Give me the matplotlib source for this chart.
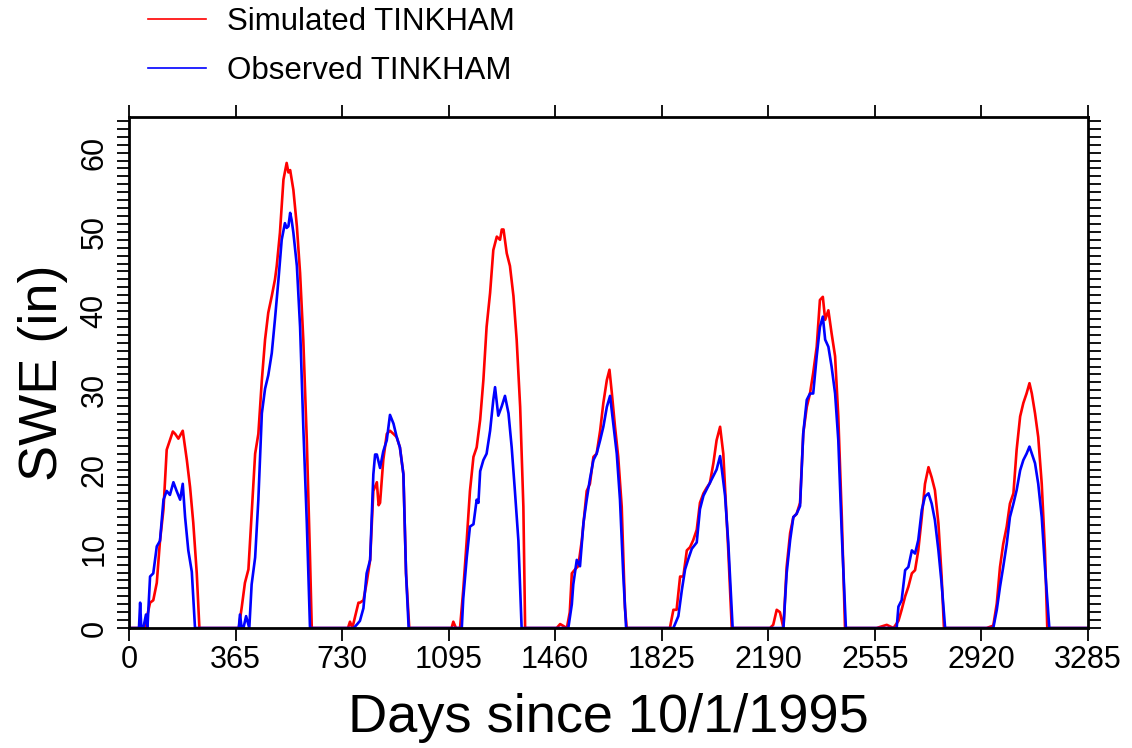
import matplotlib
matplotlib.use("Agg")
import matplotlib.pyplot as plt
import numpy as np

# Simulated SWE (red): day since 10/1/1995 and inches
sim_days = [0, 55, 62, 72, 83, 95, 106, 118, 129, 140, 150, 158, 169, 184, 198, 209, 220, 232, 241,
            376, 386, 397, 409, 420, 432, 443, 455, 466, 477, 489, 500, 506, 517, 529, 540, 546, 552,
            563, 575, 586, 597, 609, 620, 626,
            750, 757, 765, 786, 791, 803, 814, 826, 837, 849, 855, 860, 871, 883, 894, 906, 917, 928,
            940, 949, 960,
            1105, 1111, 1120, 1134, 1145, 1157, 1168, 1180, 1191, 1203, 1214, 1225, 1237, 1248, 1260,
            1271, 1277, 1283, 1294, 1305, 1317, 1328, 1340, 1351, 1357,
            1465, 1477, 1500, 1510, 1517, 1528, 1539, 1551, 1568, 1579, 1591, 1602, 1614, 1625, 1637,
            1646, 1654, 1665, 1676, 1688, 1699, 1705,
            1842, 1853, 1865, 1876, 1888, 1899, 1911, 1922, 1933, 1945, 1956, 1968, 1979, 1990, 2002,
            2013, 2025, 2036, 2042, 2053, 2065,
            2196, 2207, 2219, 2230, 2242, 2253, 2265, 2276, 2287, 2299, 2310, 2322, 2333, 2344, 2356,
            2367, 2377, 2385, 2396, 2407, 2419, 2430, 2442, 2453,
            2561, 2596, 2619, 2636, 2647, 2659, 2670, 2682, 2693, 2704, 2716, 2727, 2739, 2750, 2761,
            2773, 2784, 2792,
            2938, 2961, 2973, 2984, 2995, 3007, 3018, 3030, 3041, 3053, 3064, 3075, 3085, 3093, 3104,
            3115, 3127, 3138, 3146, 3285]
sim_swe = [0, 0, 1.5, 3.2, 3.5, 5.7, 11, 15, 22.5, 23.7, 24.8, 24.5, 23.9, 24.9, 21.2, 17.8, 13.3, 6.9, 0,
           0, 2.6, 5.7, 7.4, 14.5, 22, 24.5, 31.3, 36.4, 39.8, 41.9, 44, 45.7, 49.9, 56.6, 58.7, 57.5, 57.8,
           55.3, 50.7, 44.8, 36.4, 23.7, 8.9, 0,
           0, 0.8, 0, 3.2, 3.2, 3.5, 5.7, 8.6, 17.3, 18.4, 15.5, 15.8, 21.2, 24.5, 24.9, 24.5, 24.1, 22.8,
           19.4, 6.9, 0,
           0, 0.8, 0, 0, 4.8, 11.1, 17.3, 21.6, 22.8, 26.3, 31.3, 38, 42.3, 47.7, 49.4,
           49, 50.3, 50.3, 47.3, 45.7, 41.9, 36.4, 27.9, 15.3, 0,
           0, 0.5, 0, 2, 6.9, 7.4, 7.8, 11, 17.3, 18.2, 21.6, 22, 24.9, 28.4, 31.3,
           32.6, 29.7, 25.4, 21.6, 15.3, 2.6, 0,
           0, 0, 2.3, 2.3, 6.5, 6.5, 9.8, 10.2, 11.1, 12.4, 15.8, 17, 17.7, 18.3, 20.8,
           23.7, 25.4, 22, 17.7, 9.8, 0,
           0, 0.4, 2.3, 2, 0, 7.7, 12, 14, 14.4, 15.8, 24.6, 27.9, 29.6, 32.2, 35.5,
           41.4, 41.8, 38.9, 40.1, 37.2, 34.3, 26.7, 14, 0,
           0, 0.4, 0, 0.9, 2.3, 4, 5.2, 6.9, 7.3, 9.8, 14, 18.2, 20.3, 19, 17.4,
           13.2, 6.5, 0,
           0, 0.3, 3.1, 7.7, 10.6, 12.8, 15.7, 17, 22.5, 26.7, 28.4, 29.6, 30.9, 29.6, 27.1,
           24.1, 18.2, 9.8, 0, 0]

# Observed SWE (blue)
obs_days = [0, 34, 38, 42, 49, 58, 63, 72, 83, 95, 106, 118, 129, 140, 152, 163, 175, 184, 192, 203, 215, 226,
            376, 380, 386, 392, 401, 412, 420, 432, 443, 455, 466, 477, 489, 500, 512, 523, 534, 540, 546,
            552, 557, 563, 575, 586, 597, 609, 620,
            770, 782, 791, 803, 814, 826, 837, 843, 849, 860, 871, 883, 894, 906, 917, 928, 940, 949, 958,
            1134, 1140, 1145, 1157, 1168, 1180, 1191, 1197, 1203, 1214, 1225, 1237, 1248, 1254, 1265,
            1277, 1288, 1300, 1311, 1322, 1334, 1345,
            1488, 1505, 1517, 1522, 1534, 1545, 1557, 1568, 1579, 1591, 1602, 1614, 1625, 1637, 1648,
            1659, 1671, 1682, 1693, 1703,
            1865, 1882, 1894, 1905, 1916, 1928, 1945, 1956, 1968, 1979, 1990, 2002, 2013, 2025, 2031,
            2042, 2053, 2068,
            2219, 2242, 2253, 2265, 2276, 2287, 2299, 2310, 2322, 2333, 2344, 2356, 2367, 2377, 2385,
            2396, 2407, 2419, 2430, 2442, 2456,
            2630, 2636, 2647, 2659, 2670, 2682, 2693, 2704, 2716, 2727, 2739, 2750, 2761, 2773, 2784, 2796,
            2961, 2973, 2984, 2995, 3007, 3018, 3030, 3041, 3053, 3064, 3075, 3085, 3093, 3104, 3115,
            3127, 3138, 3153, 3285]
obs_swe = [0, 0, 3.2, 0, 0, 1.7, 0, 6.5, 6.9, 10.3, 11, 16.2, 17.3, 16.8, 18.4, 17.3, 16.2, 18.2, 14, 9.8, 7.1, 0,
           0, 1.7, 0, 0, 1.5, 0, 5.5, 8.9, 16.2, 27.1, 30.2, 31.9, 34.7, 39, 44, 49, 51.1, 50.5, 50.7,
           52.4, 51.5, 49.9, 45.7, 38, 25.4, 13.3, 0,
           0, 0.5, 0.9, 2.5, 6.9, 8.6, 19.4, 21.9, 21.9, 20.2, 22.3, 23.7, 26.9, 25.8, 24.1, 22.8, 19.4, 6.9, 0,
           0, 0, 3.7, 8.9, 12.8, 13.1, 16.2, 15.8, 19.8, 21.2, 22, 24.9, 28.8, 30.4, 26.8,
           28, 29.3, 27.1, 22.8, 17.3, 11, 0,
           0, 0, 3, 5.5, 8.6, 7.8, 13.3, 16.2, 18.8, 21.2, 22, 23.7, 25.4, 27.9, 29.3,
           25.8, 22, 16.2, 6.9, 0,
           0, 1.5, 4.8, 7.4, 8.7, 10, 10.8, 15, 16.7, 17.5, 18.3, 19.2, 20, 21.7, 20,
           16.7, 10.8, 0,
           0, 0, 6.9, 11.1, 14, 14.4, 15.4, 24.6, 28.8, 29.6, 29.6, 34.3, 38, 39.3, 36.4,
           35.5, 33, 29.6, 23.7, 11.8, 0,
           0, 2.7, 3.5, 7.3, 7.7, 9.8, 9.4, 11.1, 14.9, 16.6, 17, 15.7, 13.6, 9.8, 5.6, 0,
           0, 2.3, 5.2, 7.7, 10.6, 14, 15.7, 17.4, 19.9, 21.2, 22, 22.9, 22, 20.8, 18.2,
           14, 7.7, 0, 0]

x_ticks = list(range(0, 3286, 365))
y_ticks = list(range(0, 61, 10))

tick_font = ["Liberation Sans Narrow", "Liberation Sans"]
title_font = ["Liberation Sans"]

fig = plt.figure(figsize=(11.32, 7.48), dpi=100)
ax = fig.add_axes([0.114, 0.1604, 0.847, 0.6832])

ax.plot(sim_days, sim_swe, color="#ff0000", linewidth=1.9, label="Simulated TINKHAM")
ax.plot(obs_days, obs_swe, color="#0000ff", linewidth=1.9, label="Observed TINKHAM")

ax.set_xlim(0, 3285)
ax.set_ylim(0, 64.5)

for side in ["top", "bottom", "left", "right"]:
    ax.spines[side].set_linewidth(2)

# NCL style ticks: outward on every side
ax.set_xticks(x_ticks)
ax.set_yticks(y_ticks)
ax.set_yticks(np.arange(0, 65, 1), minor=True)
ax.tick_params(axis="x", which="major", direction="out", length=9, width=1.3,
               top=True, bottom=True, labelsize=22, pad=3)
ax.tick_params(axis="y", which="both", direction="out", length=9, width=1.3,
               left=True, right=True, labelsize=22, pad=5)
for lab in ax.get_xticklabels():
    lab.set_family(tick_font)
for lab in ax.get_yticklabels():
    lab.set_family(tick_font)
    lab.set_rotation(90)
    lab.set_va("center")

ax.set_xlabel("Days since 10/1/1995", fontsize=39, family=title_font, labelpad=13)
ax.set_ylabel("SWE (in)", fontsize=39, family=title_font, labelpad=8)

fig.legend(loc="upper left", bbox_to_anchor=(0.1307, 0.991), frameon=False,
           borderpad=0, borderaxespad=0,
           prop={"family": "Liberation Sans", "size": 22.5},
           handlelength=1.85, handletextpad=0.67, labelspacing=0.62)
for line in fig.legends[0].get_lines():
    line.set_linewidth(1.2)

fig.savefig("out.png", dpi=100)
